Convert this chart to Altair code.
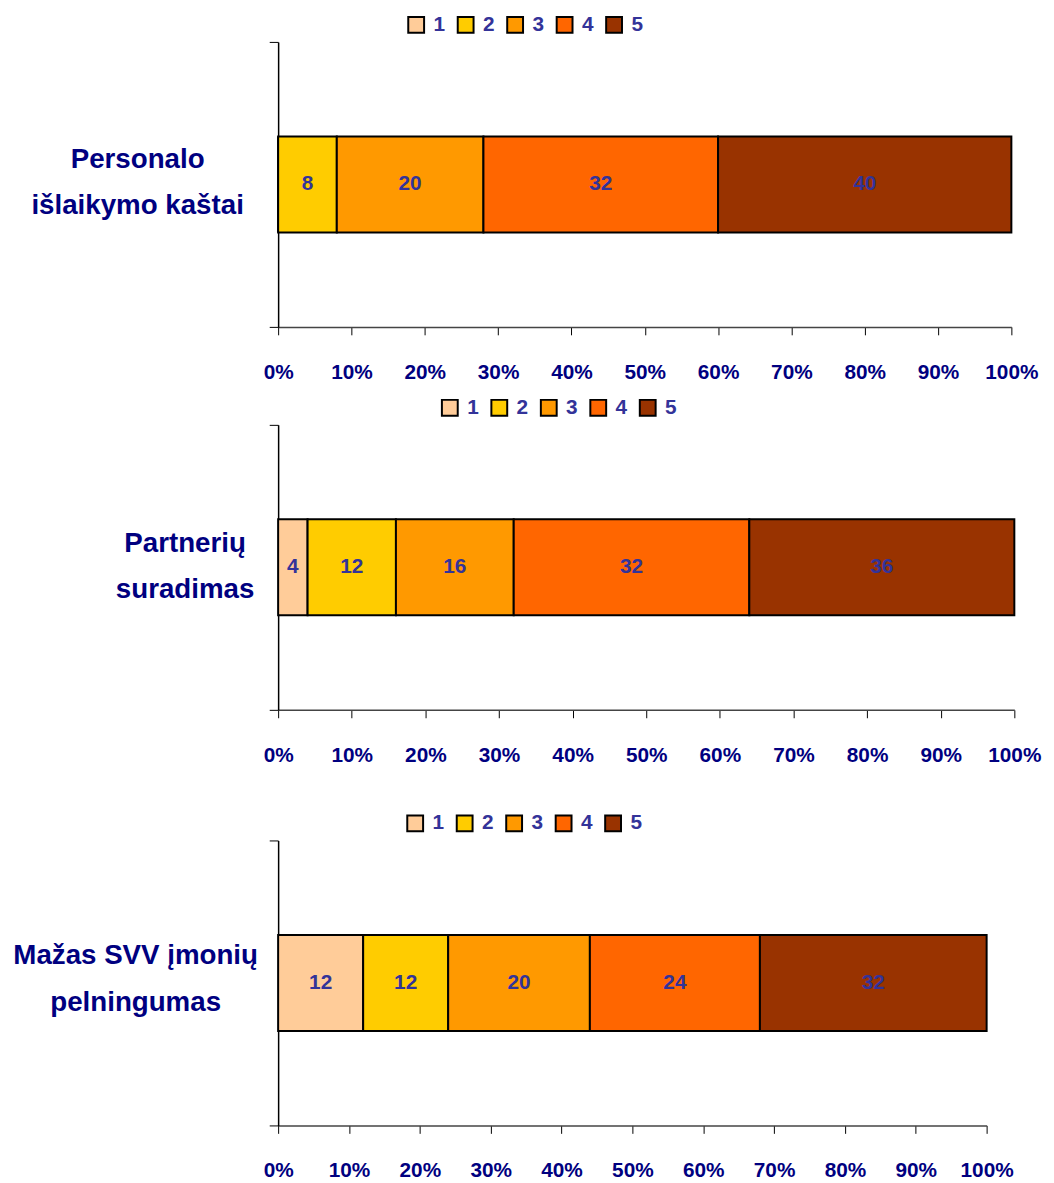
import altair as alt
import pandas as pd

series = ["1", "2", "3", "4", "5"]
colors = ["#FFCC99", "#FFCC00", "#FF9900", "#FF6600", "#993300"]

cat1 = "Personalo|išlaikymo kaštai"
vals1 = [0, 8, 20, 32, 40]
cat2 = "Partnerių|suradimas"
vals2 = [4, 12, 16, 32, 36]
cat3 = "Mažas SVV įmonių|pelningumas"
vals3 = [12, 12, 20, 24, 32]

tick_vals = [0, 0.1, 0.2, 0.3, 0.4, 0.5, 0.6, 0.7, 0.8, 0.9, 1.0]

FONT = "Liberation Sans"
NAVY = "#000080"
LBL = "#333399"


def panel(cat, vals, width, legend_x, legend_y, text_x, text_dy):
    df = pd.DataFrame({"cat": [cat] * len(series), "series": series, "value": vals})
    base = alt.Chart(df).transform_stack(
        stack="value", groupby=["cat"], as_=["x0", "x1"], offset="normalize",
        sort=[alt.SortField("series", order="ascending")]
    ).transform_calculate(mid="(datum.x0 + datum.x1) / 2")

    yenc = alt.Y("cat:N", title=None,
                 scale=alt.Scale(paddingInner=0, paddingOuter=0),
                 axis=alt.Axis(labels=False, ticks=True, tickBand="extent", tickSize=9,
                               domainColor="black", tickColor="black", domainWidth=1.5))
    xscale = alt.Scale(domain=[0, 1], nice=False)
    xaxis = alt.Axis(values=tick_vals, format="%", title=None, grid=False,
                     tickSize=8, tickColor="black", domainColor="#444", domainWidth=1.5,
                     labelFont=FONT, labelFontSize=21, labelFontWeight="bold",
                     labelColor=NAVY, labelPadding=27, labelFlush=False)

    bars = base.mark_bar(stroke="black", strokeWidth=2, size=97).encode(
        x=alt.X("x0:Q", scale=xscale, axis=xaxis),
        x2="x1:Q",
        y=yenc,
        color=alt.Color("series:N", scale=alt.Scale(domain=series, range=colors),
                        legend=alt.Legend(orient="none", legendX=legend_x, legendY=legend_y,
                                          direction="horizontal", title=None,
                                          symbolType="square", symbolSize=256,
                                          symbolStrokeColor="black", symbolStrokeWidth=2,
                                          labelFont=FONT, labelFontSize=21,
                                          labelFontWeight="bold", labelColor=LBL,
                                          labelOffset=7, columnPadding=8, padding=0)),
    )
    labels = base.transform_filter("datum.value > 0").mark_text(
        font=FONT, fontSize=21, fontWeight="bold", color=LBL, baseline="middle"
    ).encode(x=alt.X("mid:Q", scale=xscale), y=alt.Y("cat:N"), text="value:Q")

    cats = alt.Chart(pd.DataFrame({"cat": [cat]})).mark_text(
        font=FONT, fontSize=28, fontWeight="bold", color=NAVY, align="center",
        baseline="middle", lineBreak="|", lineHeight=47, dy=text_dy
    ).encode(x=alt.value(text_x), y=alt.Y("cat:N"), text="cat:N")

    return alt.layer(bars, labels, cats).properties(width=width, height=288)


p1 = panel(cat1, vals1, 741, 129, -28, -142, -25)
p2 = panel(cat2, vals2, 744, 163, -28, -94, -24)
p3 = panel(cat3, vals3, 716, 128, -28, -144, -27)

top = alt.vconcat(p1, p2, spacing=15).resolve_legend(color="independent")
chart = alt.vconcat(top, p3, spacing=48).resolve_legend(color="independent").properties(
    padding={"left": 5, "top": 0, "right": 5, "bottom": 5}
).configure_view(stroke=None)

chart.save("out.html", embed_options={"renderer": "svg", "actions": False})
